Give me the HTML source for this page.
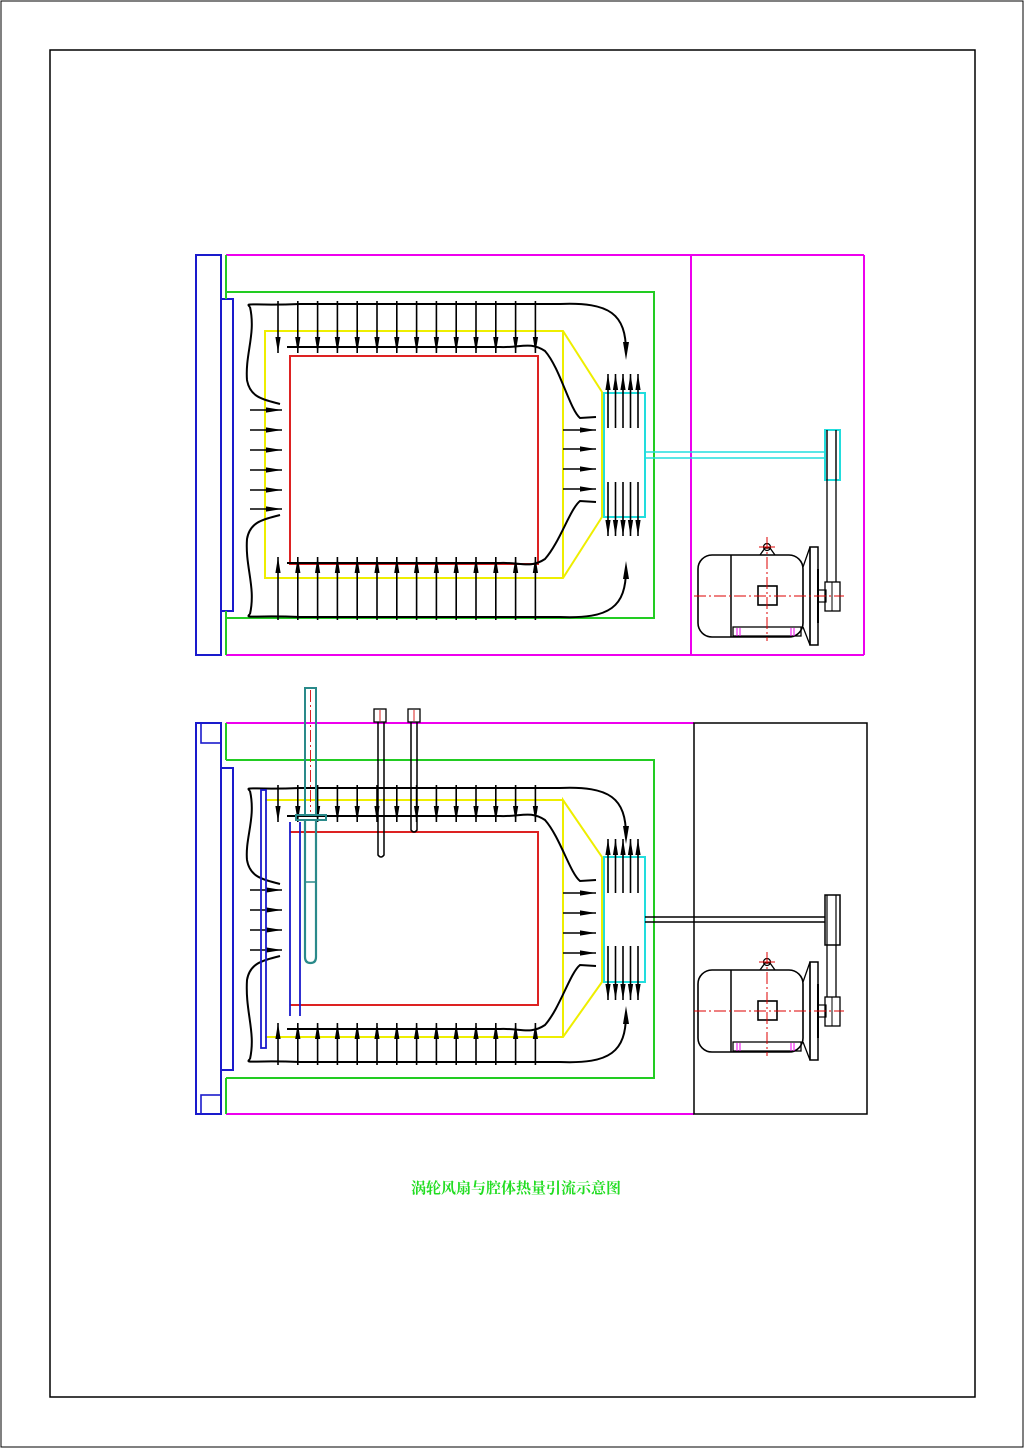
<!DOCTYPE html>
<html><head><meta charset="utf-8"><style>
html,body{margin:0;padding:0;background:#fff;width:1024px;height:1448px;overflow:hidden}
svg{display:block}
</style></head><body>
<svg id="s" width="1024" height="1448" viewBox="0 0 1024 1448" xmlns="http://www.w3.org/2000/svg" fill="none" stroke-width="1.5">
<rect x="1" y="1" width="1022" height="1446" stroke="#000" stroke-width="1"/>
<rect x="50" y="50" width="925" height="1347" stroke="#000" stroke-width="1.5"/>
<g id="g"></g>
<text x="516" y="1193" fill="#22dd22" stroke="none" font-family="'Liberation Serif','Noto Serif CJK SC',serif" font-size="15" font-weight="bold" text-anchor="middle">涡轮风扇与腔体热量引流示意图</text>
</svg>
<script>
var o='';
function L(x1,y1,x2,y2,c,w,d){o+='<line x1="'+x1+'" y1="'+y1+'" x2="'+x2+'" y2="'+y2+'" stroke="'+c+'"'+(w?' stroke-width="'+w+'"':'')+(d?' stroke-dasharray="'+d+'"':'')+'/>';}
function R(x,y,w,h,c,sw,rx){o+='<rect x="'+x+'" y="'+y+'" width="'+w+'" height="'+h+'" stroke="'+c+'"'+(sw?' stroke-width="'+sw+'"':'')+(rx?' rx="'+rx+'"':'')+'/>';}
function P(d,c,w,f){o+='<path d="'+d+'" stroke="'+c+'" stroke-width="'+(w||2)+'" fill="'+(f||'none')+'"/>';}
function A(x1,y1,x2,y2){L(x1,y1,x2,y2,'#000',1.6);var dx=x2-x1,dy=y2-y1,l=Math.hypot(dx,dy);dx/=l;dy/=l;var hl=16,hw=2.6;var bx=x2-dx*hl,by=y2-dy*hl;
o+='<polygon points="'+x2+','+y2+' '+(bx-dy*hw)+','+(by+dx*hw)+' '+(bx+dy*hw)+','+(by-dx*hw)+'" fill="#000"/>';}
function motor(cy,py){
 var by=cy-41;
 R(698,by,105,82,'#000',1.6,14);
 L(731,by,731,by+82,'#000');
 R(758,cy-10,19,19,'#000',1.6);
 P('M760 '+by+' L765 '+(by-7)+' L770 '+(by-7)+' L775 '+by,'#000',1.3);
 o+='<circle cx="767" cy="'+(by-8)+'" r="3.5" stroke="#000" stroke-width="1.2"/>';
 R(733,by+72,68,9,'#000',1.3);
 L(737,by+73,737,by+81,'#e0e',1);L(740,by+73,740,by+81,'#e0e',1);L(791,by+73,791,by+81,'#e0e',1);L(794,by+73,794,by+81,'#e0e',1);
 P('M803 '+(by+12)+' L810 '+(by-8)+' L810 '+(by+90)+' L803 '+(by+72),'#000',1.3);
 R(810,by-8,8,98,'#000',1.5);
 L(818,by+14,818,by+68,'#000',2);
 R(818,cy-6,8,12,'#000',1.2);
 R(825,cy-14,15,29,'#000',1.3);L(832,cy-14,832,cy+15,'#000',1);
 L(827,py,827,cy-14,'#000',1.3);L(836,py,836,cy-14,'#000',1.3);
 L(694,cy,844,cy,'#d00',1,'12,3,2,3');L(767,by-18,767,by+86,'#d00',1,'12,3,2,3');L(759,by-8,775,by-8,'#d00',1);
}
R(196,255,25,400,'#1a1acc',2);
R(221,299,12,312,'#1a1acc',2);
L(226,255,864,255,'#e0e',2);L(226,655,864,655,'#e0e',2);L(864,255,864,655,'#e0e',2);L(691,255,691,655,'#e0e',2);
L(226,255,226,299,'#2c2',2);L(226,611,226,655,'#2c2',2);
P('M226 292 L654 292 L654 618 L226 618','#2c2',2);
P('M563 331 L265 331 L265 578 L563 578 L602 517 L602 392 Z M563 331 L563 578','#ee0',2);
R(290,356,248,208,'#d22',2);
R(604,393,41,124,'#2dd',2);
L(645,452,825,452,'#2dd',1.5);L(645,458,825,458,'#2dd',1.5);
R(825,430,15,50,'#2dd',2);
motor(596,430);
L(827,430,827,480,'#000',1.2);L(836,430,836,480,'#000',1.2);
function flow(yT,yB,yt2,yb2,lefts,rights,cu,cd){
 var xs=[];for(var i=0;i<14;i++)xs.push(278+i*19.8);
 xs.forEach(function(x){A(x,yT-3,x,yt2+10);A(x,yB+3,x,yb2-10);});
 P('M250 '+(yT+3)+' C245 '+(yT-2)+' 250 '+(yT+2)+' 300 '+yT+' L560 '+yT+' C610 '+(yT-2)+' 626 '+(yT+10)+' 626 '+(yT+48),'#000',2);
 o+='<polygon points="626,'+(yT+56)+' 623,'+(yT+38)+' 629,'+(yT+38)+'" fill="#000"/>';
 P('M250 '+(yB-3)+' C245 '+(yB+2)+' 250 '+(yB-2)+' 300 '+yB+' L560 '+yB+' C610 '+(yB+2)+' 626 '+(yB-10)+' 626 '+(yB-48),'#000',2);
 o+='<polygon points="626,'+(yB-56)+' 623,'+(yB-38)+' 629,'+(yB-38)+'" fill="#000"/>';
 P('M250 '+(yT+3)+' C256 '+(yT+30)+' 245 '+(yT+50)+' 247 '+(lefts[0]-30)+' C250 '+(lefts[0]-12)+' 265 '+(lefts[0]-10)+' 280 '+(lefts[0]-6),'#000',2);
 P('M250 '+(yB-3)+' C256 '+(yB-30)+' 245 '+(yB-50)+' 247 '+(lefts[lefts.length-1]+30)+' C250 '+(lefts[lefts.length-1]+12)+' 265 '+(lefts[lefts.length-1]+10)+' 280 '+(lefts[lefts.length-1]+6),'#000',2);
 lefts.forEach(function(y){A(250,y,282,y);});
 rights.forEach(function(y){A(563,y,596,y);});
 P('M287 '+(yt2+4)+' L500 '+(yt2+4)+' C520 '+(yt2+5)+' 530 '+(yt2-2)+' 545 '+(yt2+8)+' C560 '+(yt2+25)+' 570 '+(rights[0]-20)+' 580 '+(rights[0]-12)+' L596 '+(rights[0]-13),'#000',2);
 P('M287 '+(yb2-4)+' L500 '+(yb2-4)+' C520 '+(yb2-5)+' 530 '+(yb2+2)+' 545 '+(yb2-8)+' C560 '+(yb2-25)+' 570 '+(rights[rights.length-1]+20)+' 580 '+(rights[rights.length-1]+12)+' L596 '+(rights[rights.length-1]+13),'#000',2);
 [608,615.5,623,630.5,638].forEach(function(x){A(x,cu+30,x,cu-24);A(x,cd-30,x,cd+24);});
}
flow(304,617,343,567,[410,430,450,470,490,509],[430,449,469,489],398,512);
R(196,723,25,391,'#1a1acc',2);R(201,723,20,20,'#1a1acc',1.6);R(201,1095,20,19,'#1a1acc',1.6);
R(221,768,12,302,'#1a1acc',2);
L(226,723,694,723,'#e0e',2);L(226,1114,694,1114,'#e0e',2);
R(694,723,173,391,'#000',1.5);
L(226,723,226,760,'#2c2',2);L(226,1078,226,1114,'#2c2',2);
P('M226 760 L654 760 L654 1078 L226 1078','#2c2',2);
P('M563 800 L265 800 M265 1037 L563 1037 L602 982 L602 857 L563 800 L563 1037','#ee0',2);
P('M290 832 L538 832 L538 1005 L290 1005','#d22',2);
R(604,857,41,125,'#2dd',2);
L(645,917,825,917,'#000',1.5);L(645,922,825,922,'#000',1.5);
R(825,895,15,50,'#000',1.5);
motor(1011,945);
L(827,895,827,945,'#000',1.2);L(836,895,836,945,'#000',1.2);
flow(788,1062,812,1033,[890,910,930,950],[893,913,933,953],863,976);
R(261,790,5,258,'#1a1acc',1.8);
L(290,822,290,1016,'#1a1acc',1.8);L(300,822,300,1016,'#1a1acc',1.8);
R(305,688,11,127,'#2a8a8a',2);L(310.5,690,310.5,812,'#d22',1,'12,3,2,3');
R(296,815,30,5,'#2a8a8a',2);
P('M305 820 L305 957 Q305 963 310.5 963 Q316 963 316 957 L316 820','#2a8a8a',2.2);
L(305,882,316,882,'#2a8a8a',1.5);
R(374,709,12,13,'#000',1.3);L(380,710,380,721,'#d22',1);
P('M378 722 L378 855 Q381 859 384 855 L384 722','#000',1.5);
R(408,709,12,13,'#000',1.3);L(414,710,414,721,'#d22',1);
P('M411 722 L411 830 Q414 834 417 830 L417 722','#000',1.5);
document.getElementById('g').innerHTML=o;
</script>
</body></html>
